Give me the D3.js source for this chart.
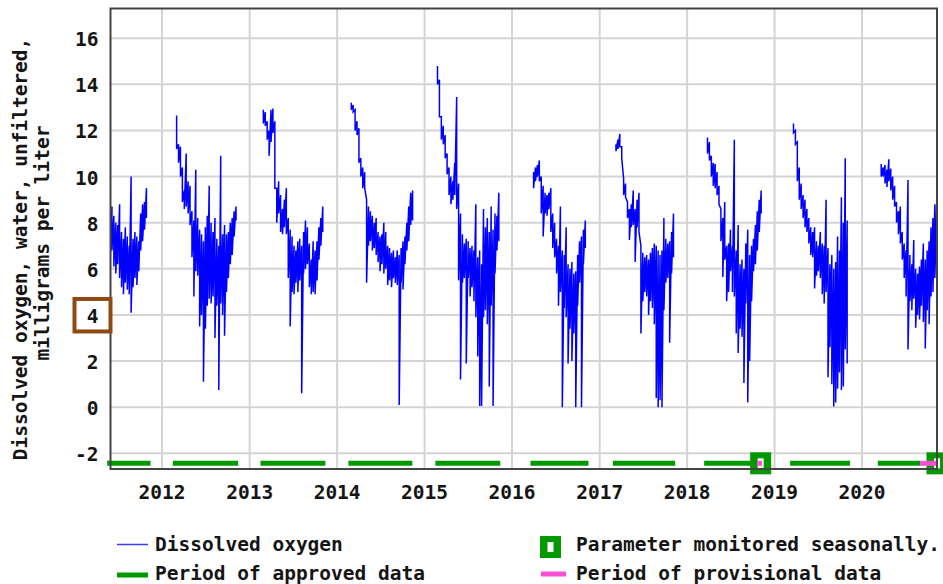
<!DOCTYPE html>
<html>
<head>
<meta charset="utf-8">
<script src="https://cdn.jsdelivr.net/npm/d3@7"></script>
<style>
  body { margin: 0; background: #fff; }
  svg text { font-family: "DejaVu Sans Mono", monospace; font-weight: bold; font-size: 19.5px; fill: #151515; }
</style>
</head>
<body>
<svg id="chart" width="943" height="584"></svg>
<script>
// 溶存酸素 (mg/L) : 季節ごとに8日おきの最小値・最大値
var stepDays = 8;
var seasonStart = ['2011-05-29', '2012-03-02', '2013-02-27', '2014-03-01', '2015-02-24',
                   '2016-03-31', '2017-03-10', '2018-03-27', '2019-03-21', '2020-03-21'];

var lo2011 = [6.2,6.8,6.1,5.8,6.2,5.6,5.2,4.9,5.4,5.1,4.9,4.1,5.2,5.6,5.3,5.9,6.8,7.2,7.7,8.2];
var hi2011 = [10.9,8.7,8.3,8.0,7.9,8.8,7.6,7.3,7.8,7.4,7.0,10.0,7.3,7.6,7.4,7.2,8.4,8.8,8.9,9.5];

var lo2012 = [11.2,10.6,10.0,8.9,8.6,8.7,8.4,7.9,6.5,4.8,5.9,5.7,3.5,4.0,1.1,3.4,4.4,4.7,4.5,4.8,3.0,4.4,0.75,4.5,4.0,3.1,5.0,5.6,6.2,6.6,7.4,8.1];
var hi2012 = [12.65,11.4,11.3,10.4,9.4,11.0,9.8,9.6,8.5,8.1,10.3,8.2,7.7,7.5,7.2,7.8,8.3,9.6,8.0,7.6,8.2,7.3,7.0,10.9,7.5,7.9,7.5,7.6,8.0,8.2,8.5,8.7];

var lo2013 = [12.3,12.2,11.6,10.9,11.5,11.9,9.5,8.0,8.4,7.6,7.5,7.8,7.5,5.6,3.5,5.0,4.9,5.4,5.0,5.5,0.6,5.8,6.0,6.2,5.2,4.9,5.0,4.9,5.5,6.4,7.0,7.6];
var hi2013 = [12.9,12.8,12.4,12.0,12.9,12.95,12.4,9.5,9.8,9.2,8.6,9.0,9.5,8.2,7.7,7.4,7.0,6.8,7.2,7.3,7.0,7.6,8.1,7.8,7.1,6.4,7.2,6.8,7.2,7.8,8.2,8.7];

var lo2014 = [12.9,12.8,12.0,11.8,10.6,10.0,9.5,9.5,5.4,7.0,7.2,6.8,6.9,6.6,6.3,5.9,6.2,5.8,6.0,5.3,5.5,5.2,5.6,5.4,5.3,0.1,5.4,5.1,6.2,6.8,7.2,7.9,8.1];
var hi2014 = [13.2,13.1,12.9,12.4,12.1,10.8,10.4,10.2,9.0,8.7,8.5,8.3,8.0,8.2,7.6,7.4,7.5,8.0,7.6,7.0,6.9,6.7,6.8,6.5,6.8,6.6,6.9,7.2,7.4,8.0,8.7,9.3,9.4];

var lo2015 = [14.0,12.6,11.6,11.4,10.8,10.1,9.2,8.8,9.0,9.2,8.6,5.5,1.2,5.4,5.6,1.9,5.6,4.8,5.2,4.6,3.9,2.2,0.05,0.05,3.9,4.2,3.6,0.9,4.4,0.05,5.8,6.8,7.2];
var hi2015 = [14.8,14.2,12.6,12.2,11.8,11.0,10.4,10.0,9.8,10.6,13.45,9.7,8.4,7.5,7.1,7.3,7.2,6.9,7.0,6.8,8.8,6.5,6.8,6.2,8.6,7.8,8.2,7.6,8.7,7.7,8.4,8.3,9.3];

var lo2016 = [9.5,9.8,10.0,9.8,8.4,7.4,8.4,8.3,8.6,7.6,6.9,6.5,5.8,4.4,5.0,0.0,4.3,3.9,1.9,3.4,2.0,3.2,0.0,4.4,5.4,0.0,6.2,6.9];
var hi2016 = [10.2,10.4,10.5,10.7,10.0,9.6,9.3,9.2,9.3,9.5,8.4,8.0,7.3,7.0,8.7,6.8,6.6,7.8,6.2,6.0,6.3,5.8,5.9,6.6,7.2,7.4,7.7,8.1];

var lo2017 = [11.1,11.2,11.3,10.8,9.2,9.1,8.2,7.25,7.8,7.9,6.3,7.8,7.6,3.2,4.6,5.0,4.8,4.0,4.6,4.3,3.6,0.4,0.0,0.3,0.0,4.2,5.4,5.6,2.8,5.8,6.5];
var hi2017 = [11.4,11.6,11.85,11.3,9.9,9.7,8.9,8.6,8.8,9.4,8.6,9.0,9.3,7.0,6.7,6.5,6.6,6.4,6.7,6.9,7.1,7.0,6.8,6.6,6.8,8.2,7.3,7.1,7.2,7.6,8.4];

var lo2018 = [11.0,10.7,10.0,9.6,9.5,9.2,8.8,7.2,5.65,6.4,4.6,5.0,5.9,5.0,4.8,3.2,2.35,3.4,3.05,1.05,4.5,0.2,2.0,4.6,5.9,6.2,6.8,7.6,8.4];
var hi2018 = [11.7,11.5,10.9,10.6,10.55,10.2,9.6,8.6,8.2,8.9,7.0,7.1,7.7,7.0,11.6,6.8,7.9,6.2,6.4,6.0,7.1,7.7,6.6,7.0,7.3,7.9,8.5,9.0,9.4];

var lo2019 = [11.9,11.4,9.8,9.0,8.6,8.2,7.8,7.6,7.1,6.6,6.5,5.15,5.7,5.9,5.6,4.9,4.5,5.0,1.3,2.6,1.0,0.03,0.2,0.8,1.5,0.75,0.9,2.5,1.9];
var hi2019 = [12.3,12.0,11.5,10.4,9.7,9.2,9.0,8.6,8.2,7.8,7.6,7.8,7.2,7.0,7.6,7.1,7.0,9.0,6.9,6.2,6.6,6.0,6.3,7.4,6.8,9.1,8.0,10.8,8.1];

var lo2020 = [10.0,10.0,9.7,9.55,9.8,9.4,9.0,8.7,8.0,7.5,7.1,6.4,5.6,4.8,2.5,4.6,4.2,4.7,3.45,4.0,3.8,4.4,3.7,2.55,4.2,3.6,4.8,5.0,5.6,6.4];
var hi2020 = [10.55,10.4,10.5,10.3,10.75,10.35,10.0,9.6,8.9,8.5,8.7,7.6,7.1,6.8,9.85,6.6,6.2,7.25,6.0,5.8,6.1,6.4,7.1,6.4,6.8,7.2,7.8,8.2,8.8,8.9];

var seasonLo = [lo2011, lo2012, lo2013, lo2014, lo2015, lo2016, lo2017, lo2018, lo2019, lo2020];
var seasonHi = [hi2011, hi2012, hi2013, hi2014, hi2015, hi2016, hi2017, hi2018, hi2019, hi2020];

// 軸の目盛り
var yTicks = [-2, 0, 2, 4, 6, 8, 10, 12, 14, 16];
var yearTicks = [2012, 2013, 2014, 2015, 2016, 2017, 2018, 2019, 2020];

// 承認済み・暫定データの期間、季節観測のマーク
var approvedPeriods = [
  ['2011-05-17', '2011-11-14'], ['2012-02-15', '2012-11-14'], ['2013-02-15', '2013-11-13'],
  ['2014-02-17', '2014-11-11'], ['2015-02-15', '2015-11-13'], ['2016-03-18', '2016-11-15'],
  ['2017-02-25', '2017-11-12'], ['2018-03-13', '2018-10-20'], ['2019-03-07', '2019-11-12'],
  ['2020-03-07', '2020-08-30']
];
var provisionalPeriods = [['2018-10-20', '2018-11-10'], ['2020-08-30', '2020-11-09']];
var seasonalMarks = ['2018-11-04', '2020-11-09'];

var parse = d3.utcParse('%Y-%m-%d');
var svg = d3.select('#chart');

// グラフ領域 (window.top と衝突しない名前にする)
var plotL = 110.5, plotR = 937, plotT = 8.5, plotB = 469;

var x = d3.scaleUtc()
  .domain([parse('2011-05-31'), parse('2020-11-09')])
  .range([plotL, plotR]);
var y = d3.scaleLinear()
  .domain([-2.68, 17.29])
  .range([plotB, plotT]);

function jan1(yr) { return x(new Date(Date.UTC(yr, 0, 1))); }

// 季節観測マーク (緑の四角に白い穴)
function seasonMark(g, cx, cy) {
  g.append('rect')
    .attr('x', cx - 10.5).attr('y', cy - 11)
    .attr('width', 21).attr('height', 22)
    .attr('fill', '#009a00');
  g.append('rect')
    .attr('x', cx - 3).attr('y', cy - 5)
    .attr('width', 6).attr('height', 10)
    .attr('fill', '#fff');
}

// グリッド
svg.append('g')
  .selectAll('line')
  .data(yTicks)
  .enter()
  .append('line')
  .attr('x1', plotL).attr('x2', plotR)
  .attr('y1', function(d) { return y(d); })
  .attr('y2', function(d) { return y(d); })
  .attr('stroke', '#d4d4d4').attr('stroke-width', 2);

svg.append('g')
  .selectAll('line')
  .data(yearTicks)
  .enter()
  .append('line')
  .attr('x1', jan1).attr('x2', jan1)
  .attr('y1', plotT).attr('y2', plotB)
  .attr('stroke', '#d4d4d4').attr('stroke-width', 2);

// データ線 (最大→最小の縦線をつなぐ)
svg.append('clipPath').attr('id', 'plotClip')
  .append('rect')
  .attr('x', plotL).attr('y', plotT)
  .attr('width', plotR - plotL).attr('height', plotB - plotT);

var line = d3.line()
  .x(function(d) { return x(d[0]); })
  .y(function(d) { return y(d[1]); });

var seasons = seasonStart.map(function(s, k) {
  var t0 = parse(s);
  var pts = [];
  seasonLo[k].forEach(function(v, i) {
    var t = d3.utcDay.offset(t0, i * stepDays);
    pts.push([t, seasonHi[k][i]]);
    pts.push([t, v]);
  });
  return pts;
});

svg.append('g')
  .attr('clip-path', 'url(#plotClip)')
  .selectAll('path')
  .data(seasons)
  .enter()
  .append('path')
  .attr('d', line)
  .attr('fill', 'none')
  .attr('stroke', '#0000ff')
  .attr('stroke-width', 1.5);

// 期間バー
var barY = y(-2) + 10;

var marks = svg.append('g');
seasonalMarks.forEach(function(d) {
  seasonMark(marks, x(parse(d)), barY);
});

svg.append('g')
  .selectAll('line')
  .data(approvedPeriods)
  .enter()
  .append('line')
  .attr('x1', function(d) { return x(parse(d[0])); })
  .attr('x2', function(d) { return x(parse(d[1])); })
  .attr('y1', barY).attr('y2', barY)
  .attr('stroke', '#009a00').attr('stroke-width', 5);

svg.append('g')
  .selectAll('line')
  .data(provisionalPeriods)
  .enter()
  .append('line')
  .attr('x1', function(d) { return x(parse(d[0])); })
  .attr('x2', function(d) { return x(parse(d[1])); })
  .attr('y1', barY).attr('y2', barY)
  .attr('stroke', '#ff4fd6').attr('stroke-width', 5);

// 枠
svg.append('rect')
  .attr('x', plotL).attr('y', plotT)
  .attr('width', plotR - plotL).attr('height', plotB - plotT)
  .attr('fill', 'none')
  .attr('stroke', '#444').attr('stroke-width', 2);

// 目盛りラベル
svg.append('g')
  .selectAll('text')
  .data(yTicks)
  .enter()
  .append('text')
  .attr('x', 98.5)
  .attr('y', function(d) { return y(d) + 8; })
  .attr('text-anchor', 'end')
  .text(function(d) { return d; });

svg.append('g')
  .selectAll('text')
  .data(yearTicks)
  .enter()
  .append('text')
  .attr('x', jan1)
  .attr('y', 499)
  .attr('text-anchor', 'middle')
  .text(function(d) { return d; });

// 「4」を囲む枠
svg.append('rect')
  .attr('x', 74.5).attr('y', y(4) - 16)
  .attr('width', 36).attr('height', 32.5)
  .attr('fill', 'none')
  .attr('stroke', '#8f4a12').attr('stroke-width', 4);

// 縦軸タイトル
svg.append('text')
  .attr('transform', 'translate(27,249) rotate(-90)')
  .attr('text-anchor', 'middle')
  .text('Dissolved oxygen, water, unfiltered,');
svg.append('text')
  .attr('transform', 'translate(49,243) rotate(-90)')
  .attr('text-anchor', 'middle')
  .text('milligrams per liter');

// 凡例
var legend = svg.append('g');
legend.append('line')
  .attr('x1', 117).attr('x2', 148).attr('y1', 544.5).attr('y2', 544.5)
  .attr('stroke', '#3b3bff').attr('stroke-width', 1.5);
legend.append('text').attr('x', 155).attr('y', 551).text('Dissolved oxygen');

legend.append('line')
  .attr('x1', 117).attr('x2', 148).attr('y1', 575).attr('y2', 575)
  .attr('stroke', '#009a00').attr('stroke-width', 5);
legend.append('text').attr('x', 155).attr('y', 580).text('Period of approved data');

seasonMark(legend, 550.5, 547);
legend.append('text').attr('x', 576).attr('y', 551).text('Parameter monitored seasonally.');

legend.append('line')
  .attr('x1', 541).attr('x2', 566).attr('y1', 574).attr('y2', 574)
  .attr('stroke', '#ff4fd6').attr('stroke-width', 5);
legend.append('text').attr('x', 576).attr('y', 580).text('Period of provisional data');
</script>
</body>
</html>
